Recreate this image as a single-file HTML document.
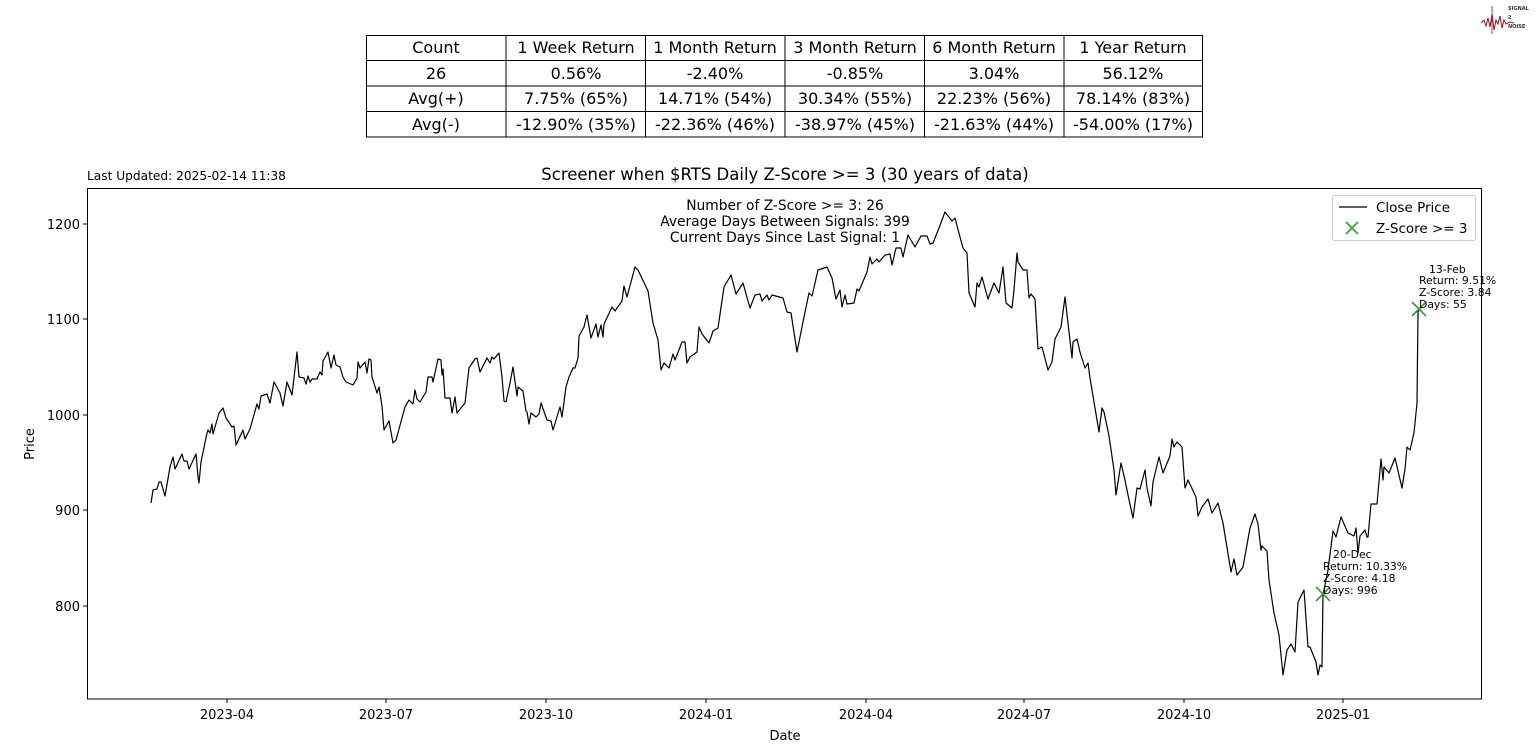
<!DOCTYPE html>
<html><head><meta charset="utf-8"><style>
body{margin:0;background:#fff;}
svg{display:block;font-family:"DejaVu Sans","Liberation Sans",sans-serif;}
</style></head><body>
<svg width="1536" height="754" viewBox="0 0 1536 754" xmlns="http://www.w3.org/2000/svg">
<rect width="1536" height="754" fill="#fff"/>
<!-- logo -->
<polyline points="1481,23 1484,20 1486,26 1488,18 1490,27 1492,14 1494,30 1496,20 1498,24 1500,16 1502,28 1504,20 1506,24 1510,22 1514,23" fill="none" stroke="#a01020" stroke-width="1"/>
<line x1="1492" y1="6" x2="1492" y2="34" stroke="#a01020" stroke-width="0.8"/>
<text x="1508" y="10" font-size="5" font-weight="bold" fill="#333">SIGNAL</text>
<text x="1508" y="19" font-size="5" font-weight="bold" fill="#333">2</text>
<text x="1508" y="28" font-size="5" font-weight="bold" fill="#333">NOISE</text>
<!-- table -->
<g stroke="#000" stroke-width="1" fill="none">
<rect x="366.5" y="35.5" width="836" height="101.5"/>
<line x1="366" y1="60.5" x2="1203" y2="60.5"/>
<line x1="366" y1="86" x2="1203" y2="86"/>
<line x1="366" y1="111.5" x2="1203" y2="111.5"/>
<line x1="506" y1="35" x2="506" y2="137"/>
<line x1="645.5" y1="35" x2="645.5" y2="137"/>
<line x1="785" y1="35" x2="785" y2="137"/>
<line x1="924.5" y1="35" x2="924.5" y2="137"/>
<line x1="1064" y1="35" x2="1064" y2="137"/>
</g>
<g font-size="16" text-anchor="middle" fill="#000">
<text x="436" y="53">Count</text><text x="576" y="53">1 Week Return</text><text x="715" y="53">1 Month Return</text><text x="855" y="53">3 Month Return</text><text x="994" y="53">6 Month Return</text><text x="1133" y="53">1 Year Return</text>
<text x="436" y="79">26</text><text x="576" y="79">0.56%</text><text x="715" y="79">-2.40%</text><text x="855" y="79">-0.85%</text><text x="994" y="79">3.04%</text><text x="1133" y="79">56.12%</text>
<text x="436" y="104">Avg(+)</text><text x="576" y="104">7.75% (65%)</text><text x="715" y="104">14.71% (54%)</text><text x="855" y="104">30.34% (55%)</text><text x="994" y="104">22.23% (56%)</text><text x="1133" y="104">78.14% (83%)</text>
<text x="436" y="130">Avg(-)</text><text x="576" y="130">-12.90% (35%)</text><text x="715" y="130">-22.36% (46%)</text><text x="855" y="130">-38.97% (45%)</text><text x="994" y="130">-21.63% (44%)</text><text x="1133" y="130">-54.00% (17%)</text>
</g>
<!-- titles -->
<text x="87" y="180" font-size="12.2">Last Updated: 2025-02-14 11:38</text>
<text x="785" y="180" font-size="16.5" text-anchor="middle">Screener when $RTS Daily Z-Score &gt;= 3 (30 years of data)</text>
<!-- axes -->
<rect x="87.5" y="188.5" width="1394" height="510.5" fill="none" stroke="#000" stroke-width="1"/>
<g stroke="#000" stroke-width="1">
<line x1="87" y1="224" x2="83" y2="224"/><line x1="87" y1="319" x2="83" y2="319"/><line x1="87" y1="415" x2="83" y2="415"/><line x1="87" y1="510" x2="83" y2="510"/><line x1="87" y1="606" x2="83" y2="606"/>
<line x1="227" y1="699" x2="227" y2="703"/><line x1="386" y1="699" x2="386" y2="703"/><line x1="546" y1="699" x2="546" y2="703"/><line x1="706" y1="699" x2="706" y2="703"/><line x1="866" y1="699" x2="866" y2="703"/><line x1="1024" y1="699" x2="1024" y2="703"/><line x1="1184" y1="699" x2="1184" y2="703"/><line x1="1343" y1="699" x2="1343" y2="703"/>
</g>
<g font-size="13" text-anchor="end">
<text x="80" y="229">1200</text><text x="80" y="324">1100</text><text x="80" y="420">1000</text><text x="80" y="515">900</text><text x="80" y="611">800</text>
</g>
<g font-size="13" text-anchor="middle">
<text x="227" y="719">2023-04</text><text x="386" y="719">2023-07</text><text x="546" y="719">2023-10</text><text x="706" y="719">2024-01</text><text x="866" y="719">2024-04</text><text x="1024" y="719">2024-07</text><text x="1184" y="719">2024-10</text><text x="1343" y="719">2025-01</text>
<text x="785" y="740">Date</text>
</g>
<text transform="translate(34,444) rotate(-90)" font-size="13" text-anchor="middle">Price</text>
<g font-size="13.8" text-anchor="middle">
<text x="785" y="210">Number of Z-Score &gt;= 3: 26</text>
<text x="785" y="226">Average Days Between Signals: 399</text>
<text x="785" y="242">Current Days Since Last Signal: 1</text>
</g>
<polyline fill="none" stroke="#000" stroke-width="1.2" stroke-linejoin="round" points="151,503 153,490 157,489 159,482 161,482 165,496 170,467 173,457 175,469 182,454 184,461 187,461 189,469 196,454 198,477 199,483 201,462 207,433 208,430 210,433 212,424 213,434 219,413 223,408 226,418 232,427 234,426 236,445 243,430 245,439 250,429 257,404 259,409 261,396 267,394 270,403 274,382 280,393 283,406 287,382 292,395 297,352 299,377 304,378 306,384 308,376 310,382 312,379 317,379 320,372 322,375 323,361 328,352 331,368 334,355 336,365 340,367 343,377 346,382 353,385 357,378 358,362 360,368 365,362 367,373 369,359 371,360 372,377 377,393 379,387 382,406 384,430 389,421 393,443 396,440 405,407 409,400 413,404 415,390 417,399 420,402 426,392 428,377 432,377 433,382 438,359 441,360 442,375 443,369 445,398 450,398 452,413 455,397 457,413 465,403 469,368 475,359 477,358 480,372 487,358 490,363 492,357 494,359 499,353 502,377 504,401 506,402 510,383 513,367 517,396 518,387 523,391 526,411 527,412 529,424 531,413 536,417 539,414 541,403 547,420 551,421 553,430 560,407 562,417 566,387 569,377 573,368 575,368 578,358 579,336 584,327 587,315 591,338 596,324 598,337 601,325 603,337 604,324 612,307 615,311 622,301 624,286 627,297 635,267 638,270 648,291 653,323 658,340 661,370 664,363 669,368 673,354 675,360 682,342 685,342 687,363 690,357 697,352 699,327 702,334 709,343 713,331 718,328 724,287 731,275 736,294 743,283 750,308 755,295 760,294 762,301 767,295 769,300 772,295 783,298 787,312 791,313 797,352 803,322 809,293 812,296 818,270 827,267 832,278 836,299 840,290 842,307 845,295 847,304 854,303 857,289 859,291 867,272 870,257 872,264 877,259 879,262 885,255 890,254 892,265 896,248 901,248 903,257 908,235 915,247 921,236 927,236 930,244 933,243 939,228 945,212 952,221 955,218 960,237 963,248 967,253 969,293 975,307 977,283 979,287 982,277 988,299 994,283 999,293 1003,267 1006,303 1012,308 1014,290 1017,253 1018,262 1023,270 1027,270 1029,298 1031,294 1035,299 1038,349 1042,347 1048,370 1052,362 1055,339 1061,327 1065,297 1072,358 1073,342 1077,339 1080,352 1085,368 1088,363 1090,378 1099,432 1102,408 1104,412 1109,436 1114,470 1116,495 1121,463 1125,480 1128,495 1133,518 1137,488 1140,489 1145,470 1147,488 1151,506 1153,482 1159,457 1163,473 1170,456 1172,439 1174,447 1177,442 1182,447 1185,488 1188,480 1196,497 1198,516 1202,507 1208,499 1212,513 1218,503 1223,523 1231,572 1234,559 1237,575 1243,567 1250,528 1255,514 1258,524 1261,550 1262,546 1267,551 1269,580 1274,613 1279,635 1283,675 1287,650 1291,644 1295,652 1298,602 1304,590 1308,647 1310,647 1316,662 1318,675 1320,665 1322,667 1323,595 1328,570 1333,531 1336,537 1341,517 1348,533 1354,536 1356,528 1358,553 1360,536 1365,530 1367,537 1368,537 1371,504 1377,504 1381,459 1383,480 1384,467 1389,473 1395,458 1402,488 1405,469 1407,447 1410,450 1414,433 1417,403 1418,312 1419,310"/>
<g stroke="#3a9a3a" stroke-width="1.6">
<line x1="1316" y1="587" x2="1330" y2="601"/><line x1="1316" y1="601" x2="1330" y2="587"/>
<line x1="1412" y1="302" x2="1426" y2="316"/><line x1="1412" y1="316" x2="1426" y2="302"/>
</g>
<g font-size="10.8">
<text x="1333" y="558">20-Dec</text><text x="1323" y="570">Return: 10.33%</text><text x="1323" y="582">Z-Score: 4.18</text><text x="1323" y="594">Days: 996</text>
<text x="1429" y="273">13-Feb</text><text x="1419" y="284">Return: 9.51%</text><text x="1419" y="296">Z-Score: 3.84</text><text x="1419" y="308">Days: 55</text>
</g>
<!-- legend -->
<rect x="1332.5" y="195.5" width="143" height="45" rx="2" fill="#fff" fill-opacity="0.8" stroke="#ccc"/>
<line x1="1339" y1="207" x2="1367" y2="207" stroke="#000" stroke-width="1.2"/>
<g stroke="#3a9a3a" stroke-width="1.6"><line x1="1346" y1="222" x2="1358" y2="234"/><line x1="1346" y1="234" x2="1358" y2="222"/></g>
<text x="1376" y="212" font-size="13.5">Close Price</text>
<text x="1376" y="233" font-size="13.5">Z-Score &gt;= 3</text>
</svg>
</body></html>
